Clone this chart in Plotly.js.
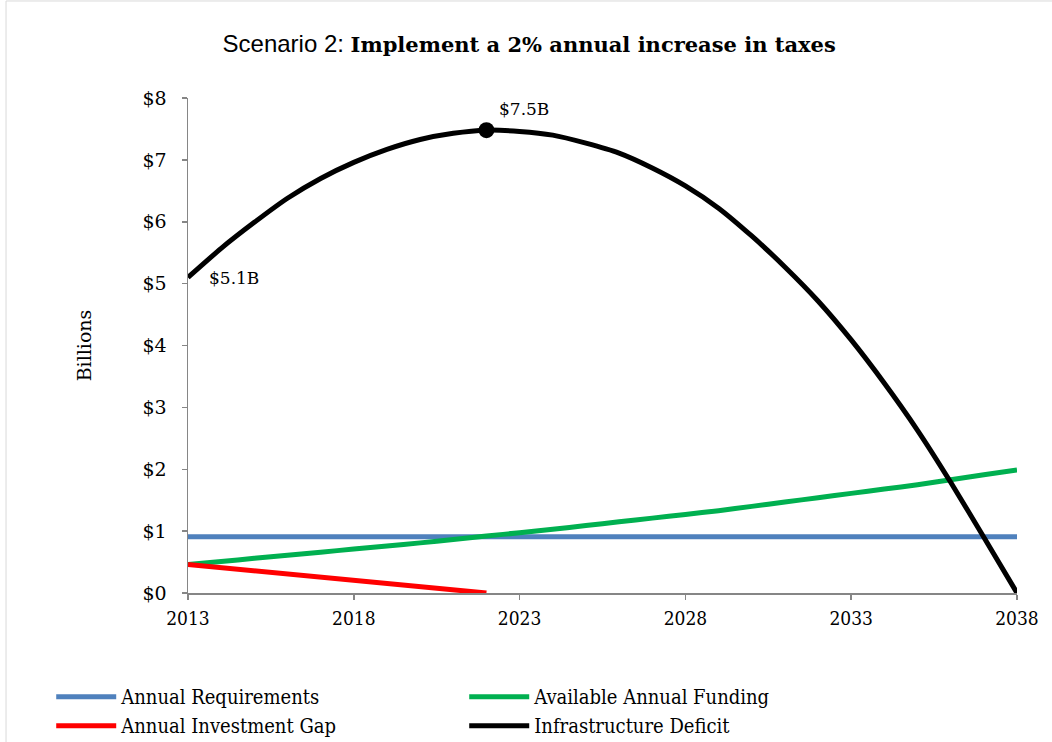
<!DOCTYPE html>
<html>
<head>
<meta charset="utf-8">
<script src="https://cdn.plot.ly/plotly-3.0.1.min.js"></script>
<style>html,body{margin:0;padding:0;background:#fff;}#chart{width:1052px;height:742px;}</style>
</head>
<body>
<div id="chart"></div>
<script>
var years = [2013,2014,2015,2016,2017,2018,2019,2020,2021,2022,2023,2024,2025,2026,2027,2028,2029,2030,2031,2032,2033,2034,2035,2036,2037,2038];
var annualRequirements = [0.91,0.91,0.91,0.91,0.91,0.91,0.91,0.91,0.91,0.91,0.91,0.91,0.91,0.91,0.91,0.91,0.91,0.91,0.91,0.91,0.91,0.91,0.91,0.91,0.91,0.91];
var availableFunding = [0.46,0.51,0.56,0.61,0.66,0.71,0.76,0.81,0.865,0.92,0.975,1.03,1.09,1.15,1.21,1.27,1.33,1.40,1.47,1.54,1.61,1.68,1.75,1.83,1.91,1.99];
var gapYears = [2013,2014,2015,2016,2017,2018,2019,2020,2021,2022];
var investmentGap = [0.46,0.41,0.36,0.31,0.26,0.21,0.16,0.10,0.05,0.00];
var infrastructureDeficit = [5.10,5.57,5.99,6.38,6.70,6.96,7.17,7.33,7.43,7.48,7.46,7.40,7.27,7.11,6.87,6.58,6.22,5.77,5.27,4.72,4.09,3.39,2.63,1.79,0.90,0.00];
var seriesNames = ["Annual Requirements","Available Annual Funding","Annual Investment Gap","Infrastructure Deficit"];

var peakIdx = infrastructureDeficit.indexOf(Math.max.apply(null, infrastructureDeficit));
var serif = "DejaVu Serif";
var serifC = "DejaVu Serif Condensed, DejaVu Serif";

var traces = [
  {x: years, y: annualRequirements, name: seriesNames[0], mode: "lines", line: {color: "#4F81BD", width: 5}, legendrank: 1},
  {x: years, y: availableFunding, name: seriesNames[1], mode: "lines", line: {color: "#00B050", width: 5, shape: "spline", smoothing: 0.6}, legendrank: 2},
  {x: gapYears, y: investmentGap, name: seriesNames[2], mode: "lines", line: {color: "#FF0000", width: 5}, legendrank: 3},
  {x: years, y: infrastructureDeficit, name: seriesNames[3], mode: "lines", line: {color: "#000000", width: 5, shape: "spline", smoothing: 0.6}, legendrank: 4},
  {x: [years[peakIdx]], y: [infrastructureDeficit[peakIdx]], mode: "markers", marker: {color: "#000", size: 16}, showlegend: false, hoverinfo: "skip"}
];

var layout = {
  width: 1052, height: 742,
  paper_bgcolor: "#fff", plot_bgcolor: "#fff",
  margin: {l: 188, r: 35, t: 98, b: 149, autoexpand: false},
  showlegend: true,
  title: {
    text: "<span style='font-family:Liberation Sans Narrow, Liberation Sans;font-size:24px'>Scenario 2: </span><b>Implement a 2% annual increase in taxes</b>",
    font: {family: serif, size: 21, color: "#000"},
    x: 0.503, xanchor: "center", xref: "container", y: 0.94, yanchor: "middle"
  },
  xaxis: {
    range: [2013, 2038], tickmode: "linear", tick0: 2013, dtick: 5,
    showgrid: false, zeroline: false, showline: true, linecolor: "#868686", linewidth: 1.5,
    ticks: "outside", ticklen: 5, tickcolor: "#868686", tickwidth: 1.5,
    tickfont: {family: serifC, size: 19, color: "#000"}, ticklabelstandoff: 3
  },
  yaxis: {
    range: [0, 8], tickmode: "linear", tick0: 0, dtick: 1, tickprefix: "$",
    showgrid: false, zeroline: false, showline: true, linecolor: "#868686", linewidth: 1.5,
    ticks: "outside", ticklen: 5, tickcolor: "#868686", tickwidth: 1.5,
    tickfont: {family: serif, size: 19, color: "#000"}, ticklabelstandoff: 11,
    title: {text: "Billions", font: {family: serif, size: 19, color: "#000"}, standoff: 46}
  },
  legend: {
    orientation: "h", x: -0.165, xanchor: "left", y: -0.17, yanchor: "top",
    entrywidth: 338, entrywidthmode: "pixels", itemwidth: 60,
    font: {family: serifC, size: 20, color: "#000"}, tracegroupgap: 0
  },
  annotations: [
    {x: years[peakIdx], y: infrastructureDeficit[peakIdx], xref: "x", yref: "y", text: "$" + infrastructureDeficit[peakIdx].toFixed(1) + "B",
     showarrow: false, xanchor: "left", xshift: 11, yshift: 21, font: {family: serif, size: 17, color: "#000"}},
    {x: years[0], y: infrastructureDeficit[0], xref: "x", yref: "y", text: "$" + infrastructureDeficit[0].toFixed(1) + "B",
     showarrow: false, xanchor: "left", xshift: 19, yshift: -1, font: {family: serif, size: 17, color: "#000"}}
  ],
  shapes: [
    {type: "rect", xref: "paper", yref: "paper", x0: -0.2195, x1: 1.1, y0: -0.4, y1: 1.196, line: {color: "#D9D9D9", width: 1}, layer: "below"}
  ]
};

Plotly.newPlot("chart", traces, layout, {displayModeBar: false, staticPlot: true});
</script>
</body>
</html>
